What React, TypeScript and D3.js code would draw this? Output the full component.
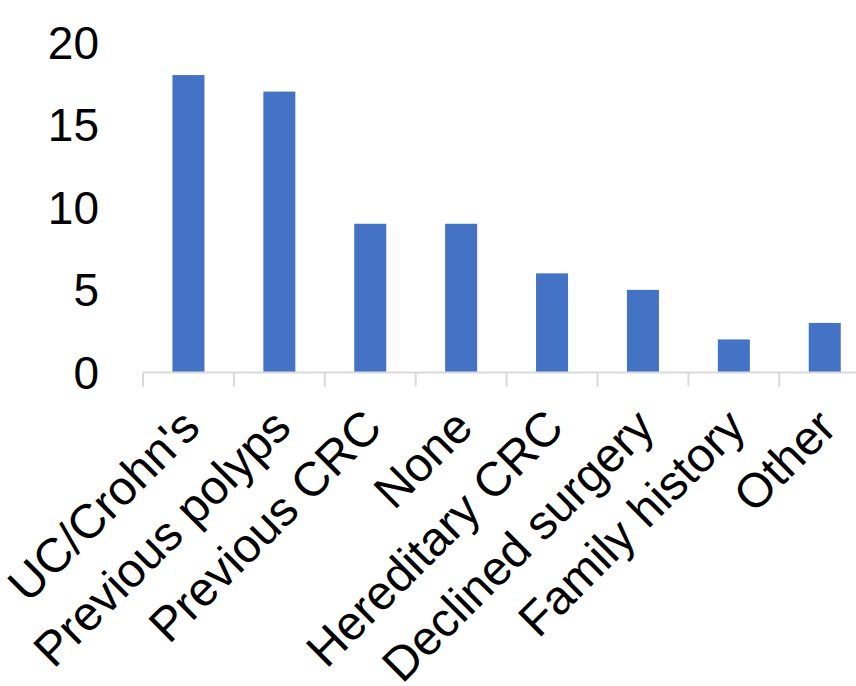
import React from "react";
import * as d3 from "d3";

const categories = [
  "UC/Crohn's",
  "Previous polyps",
  "Previous CRC",
  "None",
  "Hereditary CRC",
  "Declined surgery",
  "Family history",
  "Other",
];
const counts = [18, 17, 9, 9, 6, 5, 2, 3];
const yTicks = [0, 5, 10, 15, 20];

const W = 856;
const H = 686;
const FONT = "'Liberation Sans', Arial, sans-serif";

export default function App() {
  const x = d3
    .scaleBand<string>()
    .domain(categories)
    .range([143, 143 + 90.9 * categories.length])
    .paddingInner(0)
    .paddingOuter(0);
  const y = d3.scaleLinear().domain([0, 20]).range([372.5, 42]);
  const barW = 32;
  const axisY = 372.5;
  const boundaries = categories.map((c) => x(c) as number);

  return (
    <svg
      width={W}
      height={H}
      style={{ position: "absolute", left: 0, top: 0, background: "#fff" }}
      fontFamily={FONT}
    >
      {yTicks.map((t) => (
        <text
          key={t}
          x={99}
          y={y(t)}
          dy="0.36em"
          textAnchor="end"
          fontSize={46}
          fill="#000"
        >
          {t}
        </text>
      ))}
      {categories.map((c, i) => {
        const cx = (x(c) as number) + x.bandwidth() / 2;
        return (
          <rect
            key={c}
            x={cx - barW / 2}
            y={y(counts[i])}
            width={barW}
            height={y(0) - y(counts[i])}
            fill="#4472C4"
          />
        );
      })}
      <line x1={143} x2={W} y1={axisY} y2={axisY} stroke="#D9D9D9" strokeWidth={2} />
      {boundaries.map((bx, i) => (
        <line key={i} x1={bx} x2={bx} y1={axisY} y2={axisY + 14} stroke="#D9D9D9" strokeWidth={2} />
      ))}
      {categories.map((c) => {
        const cx = (x(c) as number) + x.bandwidth() / 2;
        const ax = cx + 2;
        const ay = 418;
        return (
          <text
            key={c}
            transform={`translate(${ax},${ay}) rotate(-45)`}
            textAnchor="end"
            dy="0.35em"
            fontSize={48}
            fill="#000"
          >
            {c}
          </text>
        );
      })}
    </svg>
  );
}
